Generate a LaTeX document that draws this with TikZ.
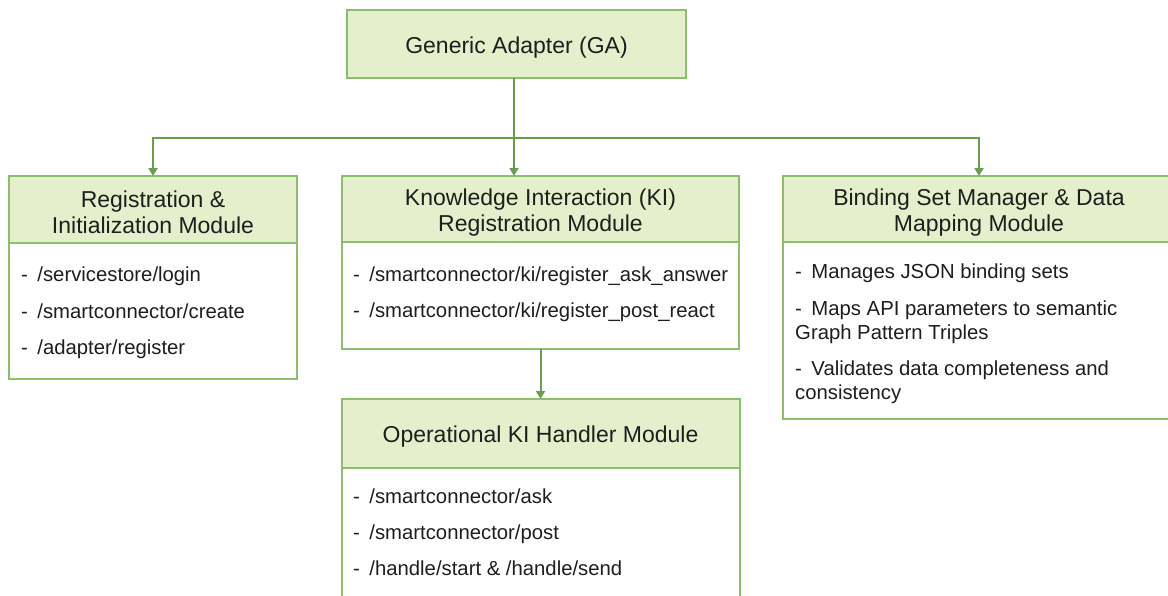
\documentclass[tikz,border=0pt]{standalone}
\usepackage{fontspec}
\setmainfont{Liberation Sans}
\usetikzlibrary{arrows.meta}
\definecolor{boxline}{HTML}{8CBF6B}
\definecolor{boxfill}{HTML}{E6EFCB}
\definecolor{wire}{HTML}{6B9E4C}
\definecolor{ink}{HTML}{1E1E1E}
% strut that sets header titles a little lower in their boxes
\newcommand\titlestrut{\rule{0pt}{23pt}}
\begin{document}
\begin{tikzpicture}[x=1pt,y=-1pt,
  box/.style={draw=boxline, line width=2pt, inner sep=0pt, outer sep=0pt,
    minimum width=#1, text=ink},
  head/.style={box=#1, fill=boxfill, align=center,
    font=\fontsize{23}{26}\selectfont},
  body/.style={box=#1, fill=white},
  item/.style={anchor=base west, inner sep=0pt, text=ink,
    font=\fontsize{20.3}{24}\selectfont},
  link/.style={draw=wire, line width=2pt, line join=miter,
    -{Triangle[width=9pt,length=8pt]}}
]
\useasboundingbox (0,0) rectangle (1168,595);
\clip (0,0) rectangle (1168,595);

% top-level adapter
\node[head=339pt, minimum height=68pt] (ga) at (516.5,44) {\titlestrut Generic Adapter (GA)};

% registration & initialization module
\node[body=288pt, minimum height=136pt] (regb) at (153,311) {};
\node[head=288pt, minimum height=67pt] (regh) at (153,209.5)
  {\titlestrut Registration \&\\Initialization Module};
\node[item] (reg1) at (21,281) {-\hspace{9.5pt}/servicestore/login};
\node[item] (reg2) at (21,318) {-\hspace{9.5pt}/smartconnector/create};
\node[item] (reg3) at (21,354) {-\hspace{9.5pt}/adapter/register};

% knowledge interaction registration module
\node[body=397pt, minimum height=107pt] (kib) at (540.5,295.5) {};
\node[head=397pt, minimum height=66pt] (kih) at (540.5,209)
  {\titlestrut Knowledge Interaction (KI)\\Registration Module};
\node[item] (ki1) at (353,281) {-\hspace{9.5pt}/smartconnector/ki/register\_ask\_answer};
\node[item] (ki2) at (353,317) {-\hspace{9.5pt}/smartconnector/ki/register\_post\_react};

% binding set manager & data mapping module
\node[body=392pt, minimum height=177pt] (bsb) at (979,330.5) {};
\node[head=392pt, minimum height=66pt] (bsh) at (979,209)
  {\titlestrut Binding Set Manager \& Data\\Mapping Module};
\node[item] (bs1) at (795,278) {-\hspace{9.5pt}Manages JSON binding sets};
\node[item] (bs2) at (795,315) {-\hspace{9.5pt}Maps API parameters to semantic};
\node[item] (bs2b) at (795,339) {Graph Pattern Triples};
\node[item] (bs3) at (795,375) {-\hspace{9.5pt}Validates data completeness and};
\node[item] (bs3b) at (795,399) {consistency};

% operational KI handler module
\node[body=398pt, minimum height=152pt] (opb) at (540.5,544) {};
\node[head=398pt, minimum height=69pt] (oph) at (540.5,433.5)
  {\titlestrut Operational KI Handler Module};
\node[item] (op1) at (353,503) {-\hspace{9.5pt}/smartconnector/ask};
\node[item] (op2) at (353,539) {-\hspace{9.5pt}/smartconnector/post};
\node[item] (op3) at (353,575) {-\hspace{9.5pt}/handle/start \& /handle/send};

% connectors
\coordinate (split) at (514,138);
\draw[link] (ga.south -| split) -- (split |- kih.north);
\draw[link, {Triangle[width=9pt,length=8pt]}-{Triangle[width=9pt,length=8pt]}]
  (regh.north) |- (split) -| (bsh.north);
\draw[link] (kib.south) -- (oph.north);
\end{tikzpicture}
\end{document}
